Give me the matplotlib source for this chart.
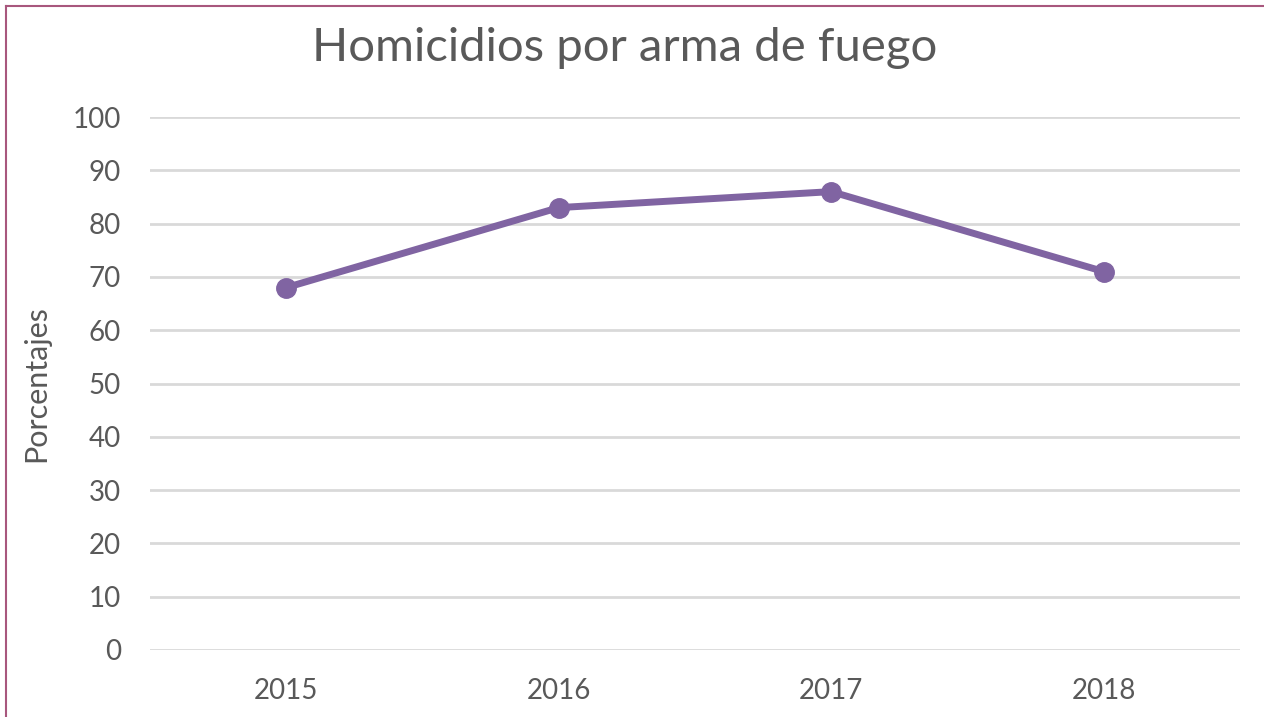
import matplotlib.pyplot as plt
from matplotlib.lines import Line2D

anios = ['2015', '2016', '2017', '2018']
porcentajes = [68, 83, 86, 71]
ticks_y = [0, 10, 20, 30, 40, 50, 60, 70, 80, 90, 100]

gris_texto = '#595959'
morado = '#8064A2'

plt.rcParams['font.family'] = ['Lato', 'DejaVu Sans']

fig = plt.figure(figsize=(12.64, 7.17), dpi=100, facecolor='white')
ax = fig.add_axes([150/1264, 1 - 650/717, 1090/1264, 533/717])

x = list(range(len(anios)))
ax.plot(x, porcentajes, color=morado, linewidth=5, marker='o',
        markersize=14, solid_capstyle='round', zorder=3)

ax.set_xlim(-0.5, len(anios) - 0.5)
ax.set_ylim(0, 100)
ax.set_xticks(x)
ax.set_xticklabels(anios)
ax.set_yticks(ticks_y)
ax.grid(axis='y', color='#D9D9D9', linewidth=2)
ax.set_axisbelow(True)
for s in ax.spines.values():
    s.set_visible(False)
ax.tick_params(length=0, labelsize=20, colors=gris_texto, pad=21)
ax.tick_params(axis='x', pad=20)
ax.set_ylabel('Porcentajes', fontsize=22, color=gris_texto, labelpad=16)

fig.text(625/1264, 1 - 48/717, 'Homicidios por arma de fuego', fontsize=34,
         color=gris_texto, ha='center', va='center')

# marco del gráfico (solo borde izquierdo y superior visibles)
borde = '#A8577D'
fig.add_artist(Line2D([5.5/1264, 5.5/1264], [0, 1 - 6/717], color=borde, linewidth=1.5))
fig.add_artist(Line2D([5.5/1264, 1], [1 - 6/717, 1 - 6/717], color=borde, linewidth=1.5))

fig.savefig('out.png', dpi=100, facecolor='white')
